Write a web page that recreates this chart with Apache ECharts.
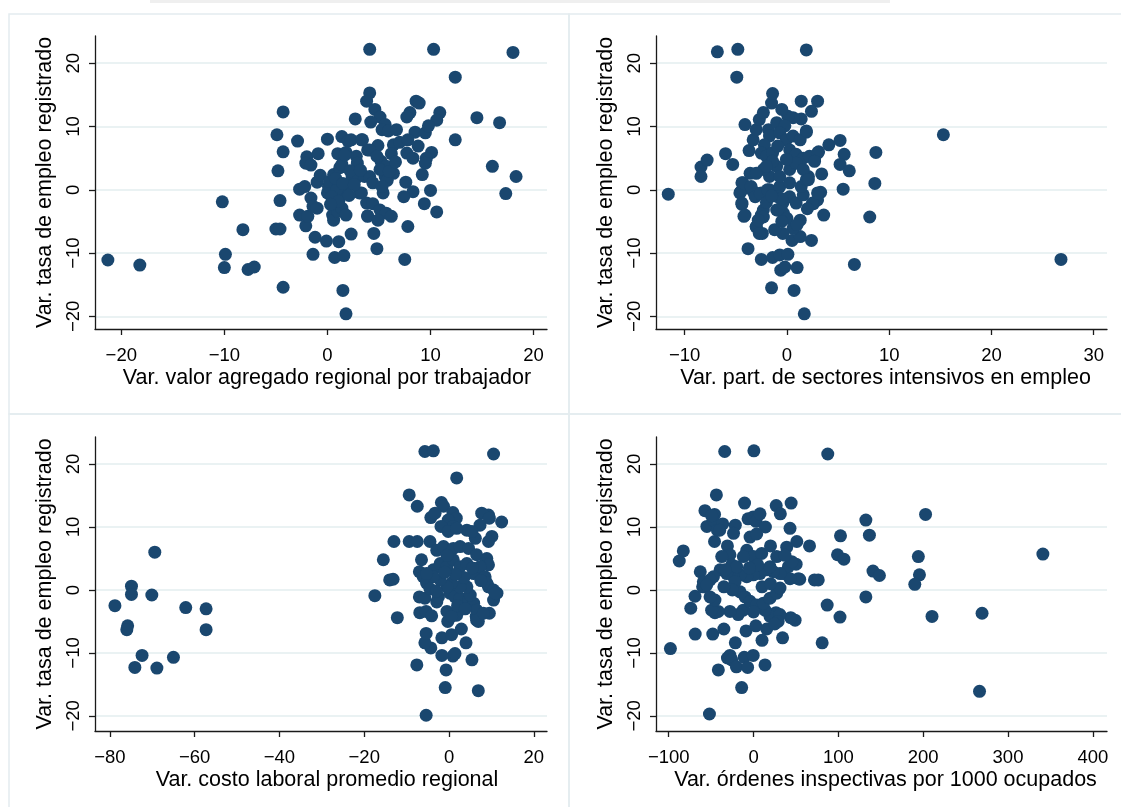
<!DOCTYPE html>
<html><head><meta charset="utf-8">
<script src="https://cdn.jsdelivr.net/npm/echarts@6/dist/echarts.min.js"></script>
<style>html,body{margin:0;padding:0;background:#fff}#c{width:1121px;height:807px}</style>
</head><body><div id="c"></div>
<script>
const yTitle = 'Var. tasa de empleo registrado';
const xTitles = ['Var. valor agregado regional por trabajador', 'Var. part. de sectores intensivos en empleo', 'Var. costo laboral promedio regional', 'Var. órdenes inspectivas por 1000 ocupados'];
const yTicks = [-20, -10, 0, 10, 20];
const xTicksValor = [-20, -10, 0, 10, 20];
const xTicksSectores = [-10, 0, 10, 20, 30];
const xTicksCosto = [-80, -60, -40, -20, 0, 20];
const xTicksOrdenes = [-100, 0, 100, 200, 300, 400];

const valorAgregado = [[-21.3,-11.1],[-18.2,-11.9],[-10.2,-1.9],[-9.9,-10.2],[-10.0,-12.3],[-8.2,-6.3],[-7.7,-12.6],[-7.1,-12.2],
[-4.3,12.3],[-4.9,8.7],[-4.3,6.0],[-4.8,3.0],[-4.6,-1.7],[-5.0,-6.2],[-4.6,-6.2],[-4.3,-15.4],
[-2.9,7.7],[-2.0,5.2],[-2.1,4.2],[-1.6,3.9],[-0.9,5.7],[0.0,8.0],[-2.7,0.1],[-2.2,0.5],[-1.0,1.2],[-0.7,2.3],
[-2.7,-4.0],[-2.1,-5.7],[-1.9,-4.2],[-1.6,-1.3],[-1.4,-2.6],[-1.0,-2.9],[-1.2,-7.5],[-1.4,-10.2],[-0.1,-8.1],
[1.1,-8.2],[0.7,-10.7],[1.6,-10.4],[1.5,-15.9],[1.8,-19.6],[2.3,-7.0],
[1.4,8.4],[2.7,11.2],[2.0,7.7],[2.3,7.9],[1.0,5.7],[1.8,5.9],[2.8,5.3],[3.3,7.9],[2.9,4.2],
[0.0,-0.5],[0.1,0.5],[0.2,1.3],[0.6,2.4],[1.2,3.5],[1.4,4.0],[0.5,-4.0],[0.6,-4.8],[1.0,-3.4],[1.4,-2.9],[1.8,-4.0],[1.2,-1.1],[1.6,-0.5],[1.9,0.5],[0.9,0.0],[0.4,-1.1],[2.4,2.1],[2.8,1.9],[3.1,-0.5],[3.9,-4.2],[3.8,-2.1],[3.6,2.1],[3.9,6.3],
[4.1,22.2],[10.3,22.2],[18.0,21.7],[12.4,17.8],[4.1,15.3],[3.8,14.0],[8.6,14.0],[8.9,13.7],[4.6,12.7],[10.9,12.2],[8.0,12.2],[7.7,11.5],[10.6,11.0],[14.5,11.4],[16.7,10.6],[5.1,11.5],[4.2,10.7],[5.6,10.3],[5.3,9.5],[5.9,9.3],[6.7,9.5],[8.5,9.1],[9.5,9.0],[9.8,10.1],[12.4,7.9],[3.4,7.9],[4.9,7.0],[4.1,6.3],[6.4,7.1],[7.0,7.5],[7.8,7.9],[8.8,6.9],[10.1,5.9],[9.6,5.0],[9.5,4.2],[7.7,5.8],[8.3,5.0],[6.2,5.7],[5.2,4.5],[5.7,3.7],[6.4,2.6],[5.6,2.1],[5.1,3.2],[4.1,2.1],[4.4,1.1],[5.4,-0.5],[3.3,-0.5],[9.2,2.4],[10.0,-0.1],[7.6,1.2],[8.3,-0.3],[7.4,-1.1],[16.0,3.7],[17.3,-0.6],[18.3,2.1],[9.4,-2.2],[10.6,-3.5],[4.4,-2.2],[5.1,-3.2],[5.7,-3.7],[6.2,-4.2],[3.9,-4.1],[4.9,-4.8],[7.8,-5.8],[4.5,-6.9],[4.8,-9.3],[7.5,-11.0],
[0.8,1.8],[1.5,1.0],[2.2,3.0],[2.6,0.8],[1.1,-1.8],[5.8,1.5],[6.0,2.9],[4.8,5.3],[3.2,3.1],[2.1,-0.9],[0.3,-2.3],[1.7,5.5],[5.3,0.5],[6.6,4.4]];

const sectoresIntensivos = [[-11.6,-0.7],[-8.4,3.6],[-8.4,2.1],[-7.8,4.7],[-6.8,21.8],[-4.8,22.2],[-4.9,17.8],[-6.0,5.7],[-5.3,4.0],[-4.1,10.3],[-3.7,6.2],[-3.8,-9.3],[-4.4,1.1],[-4.5,-0.3],[-4.4,-2.3],[-4.2,-4.2],[-3.3,7.9],[-3.0,9.5],[-2.7,11.1],[-2.3,12.2],[-1.5,13.7],[-1.4,15.2],
[-2.5,-11.0],[-1.5,-15.5],[-1.4,-10.7],[-0.6,-12.7],[-0.2,-12.2],[-0.7,-10.3],[0.1,-10.2],[0.7,-15.9],[1.0,-12.3],[1.7,-19.6],[1.9,22.1],[1.4,14.0],[3.0,14.0],[2.4,12.4],[1.4,11.2],[0.6,11.4],[0.1,11.6],[-0.5,12.7],[1.9,9.1],[4.1,7.1],[5.2,7.8],[5.6,5.6],[5.2,4.0],[6.1,3.0],[5.5,0.1],[8.6,1.0],[8.7,5.9],[8.1,-4.3],[6.6,-11.8],[15.3,8.7],[26.8,-11.0],
[3.6,-4.0],[3.4,2.5],[3.3,-0.4],[3.1,6.0],[2.7,4.7],[2.4,-8.0],[3.0,-1.6],[2.6,-2.2],[2.1,2.1],[0.5,-8.0],[1.3,-7.4],[1.3,-4.8],[0.6,-6.1],[-0.4,-6.9],[-1.2,-6.3],[-0.35,-3.7],[-1.0,-3.2],[-2.4,-6.9],[-3.0,-5.9],
[-1.8,9.5],[-1.7,8.5],[-1.0,10.6],[-0.2,10.1],[-0.7,9.0],[-0.05,7.9],[0.6,8.5],[1.3,7.9],[1.9,9.3],[-2.2,7.1],[-2.5,5.8],[-2.0,5.3],[-1.4,5.8],[-0.9,6.9],[0.27,6.3],[0.9,5.6],[1.6,5.0],[2.2,5.3],[3.0,5.8],[2.7,4.5],
[-4.6,-0.5],[-4.4,-2.1],[-4.3,1.1],[-3.6,2.6],[-3.3,-0.3],[-3.0,-5.8],[-2.7,-6.9],[-2.5,-4.0],[-2.3,-3.2],[-4.1,-4.0],[-0.9,-3.2],[-0.4,-2.1],[0.27,-1.1],[0.9,-2.1],[1.6,-0.8],[1.4,0.5],[1.9,1.6],[2.5,-2.1],[3.0,-0.5],
[-1.0,3.7],[-1.7,2.1],[-2.3,3.2],[-3.0,2.6],[-3.5,0.5],[-2.5,-0.5],[-1.7,0.0],[-0.7,0.5],[0.27,1.1],[0.27,3.2],[0.9,4.2],[1.6,3.2],[2.1,1.6],[-0.05,4.8],[-1.4,4.5],[-2.0,3.7],[-0.7,2.1],
[-3.1,-1.1],[-2.6,-0.6],[-1.9,0.0],[-0.9,-1.1],[-0.5,-1.4],[-2.3,-4.3],[-2.8,-4.8],[-2.0,-2.0],[-1.5,-1.0],[0.0,-4.5],[1.0,-5.5],[-0.5,-5.0],[2.0,-3.0]];

const costoLaboral = [[-78.8,-2.5],[-74.9,0.6],[-74.9,-0.7],[-75.8,-5.7],[-76.0,-6.3],[-72.4,-10.4],[-74.1,-12.3],[-70.1,-0.8],[-69.4,6.0],[-68.9,-12.4],[-65.0,-10.7],[-62.1,-2.8],[-57.3,-3.0],[-57.3,-6.3],
[-17.5,-0.9],[-15.5,4.8],[-14.0,1.6],[-13.2,1.7],[-13.0,7.7],[-12.2,-4.4],[-9.4,15.1],[-7.5,13.3],[-9.4,7.7],[-7.5,7.7],[-4.5,7.7],[-5.7,22.0],[-3.7,22.1],[10.5,21.6],[1.8,17.8],[-5.4,-19.9],[-7.6,-11.9],[-0.9,-15.5],[6.9,-16.0],[-0.7,-12.7],[5.4,-11.1],[0.9,-10.5],[1.4,-10.1],[-1.7,-10.4],[-4.3,-9.2],[-5.7,-8.4],[-5.4,-6.9],[-1.7,-7.6],[0.6,-7.1],[2.9,-6.2],[4.0,-8.4],[-0.3,-5.0],[1.8,-4.0],[-0.5,-3.4],[0.6,-4.2],[6.9,-5.0],[6.4,-4.2],[9.5,-3.7],[-6.9,-3.6],[-5.4,-3.4],[-4.1,-4.1],[-7.0,-1.1],[-5.7,-1.3],[-2.9,-1.9],[-2.5,-1.1],[10.5,-1.6],[11.3,-0.5],[9.3,0.5],[12.4,10.8],[9.3,11.9],[7.7,12.2],[9.5,11.4],[7.3,10.3],[6.2,8.2],[10.1,8.5],[9.3,7.7],[4.2,9.5],[5.4,9.3],[-1.8,13.9],[-1.3,13.3],[-4.3,11.5],[-3.3,12.2],[0.9,12.3],[1.7,11.4],[-0.2,11.1],[1.0,10.1],[-1.9,10.1],[-0.2,9.3],[1.8,9.8],
[-2.9,6.3],[-1.3,6.9],[1.0,6.6],[2.6,6.9],[4.6,6.6],[6.5,5.6],[8.9,5.0],[8.5,4.2],[9.3,4.0],
[-6.5,4.8],[-7.0,2.9],[-6.1,2.1],[-5.3,1.1],[-3.7,3.2],[-2.1,4.2],[-0.5,3.7],[1.0,4.8],[2.6,3.7],[4.2,4.2],[5.8,2.6],[7.3,3.7],[8.5,2.1],[8.9,1.1],[10.5,0.0],[10.9,-0.5],
[0.2,-0.5],[1.4,-1.1],[2.6,-1.3],[4.6,-1.6],[5.8,-2.1],[6.5,-3.2],[6.5,-4.8],[8.1,-3.7],[5.0,-0.8],[4.2,0.5],[2.6,0.5],[0.6,1.1],[-0.5,0.5],[-2.1,1.6],[-3.7,2.1],[-5.3,2.6],
[-4.5,0.2],[-3.0,-0.2],[3.5,2.0],[1.5,2.5],[-1.0,2.8],[2.0,-2.5],[3.8,-3.0],[7.5,1.5],[5.5,3.5],[-0.5,5.5]];

const ordenesInspectivas = [[-98,-9.3],[-87.6,4.6],[-82.8,6.2],[-74,-2.9],[-69,-1.0],[-68.8,-7.0],[-62.8,2.9],[-60,0.5],[-57.3,12.6],[-55,10.1],[-52,-19.7],[-48.1,-7.0],[-46,12.0],[-47.6,11.1],[-43.8,15.1],[-46,7.7],[-42.6,9.5],[-36.3,10.5],[-34,22.0],[-41.5,-12.7],[-35,-6.2],[-30.8,-10.8],[-27.8,-10.4],[-25.7,-11.1],[-21.5,-8.4],[-20.2,-12.2],[-21.5,10.3],[-23.6,9.0],[-30.8,7.0],[-27.8,5.6],[-25.7,4.0],[-14,-15.5],[-10.6,13.8],[-6.5,11.3],[-0.4,11.6],[1.5,11.1],[3.0,10.9],[7.6,12.1],[0.4,22.1],[14,10.0],[-8.9,-6.5],[2.7,-5.7],[15.5,-6.2],[-11,-10.7],[-7,-12.3],[-0.4,-10.4],[13.5,-11.9],[34.2,-7.6],[26.7,13.4],[31.6,12.1],[44.3,13.8],[43,9.8],[51,7.7],[66,7.0],[71.8,1.6],[76.3,1.6],[50.2,4.1],[54.4,1.7],[49,-4.8],[43.8,-4.4],[86.8,-2.4],[80.9,-8.4],[87.5,21.6],[102.5,8.6],[99,5.6],[106.5,4.9],[101.9,-4.3],[132.4,11.1],[136.6,8.7],[140.8,3.0],[148.4,2.3],[132.4,-1.1],[202.8,12.0],[194.3,5.3],[195.6,2.4],[190.1,0.9],[210.4,-4.2],[269.4,-3.7],[266.4,-16.1],[341.1,5.7],
[-49.4,11.8],[-39.9,9.5],[-57.2,0.5],
[-12.2,-3.2],[-18.1,-3.9],[-27.8,-3.4],[-41.6,-3.4],[-45.5,-3.6],[-49.4,-3.2],[-45.5,-1.6],[-51.3,-1.1],[-59.2,1.3],
[26.4,-3.6],[19.4,-4.2],[13.5,-3.2],[31.1,-3.9],
[-15.9,-0.3],[-10.0,-1.1],[-4.1,-1.8],[3.7,-2.4],[11.6,-2.1],[19.4,-1.3],[27.3,-0.5],[31.2,0.3],[35.2,2.6],[41.1,3.7],[52.8,1.8],[43.0,1.8],[31.2,2.6],[23.4,2.9],[15.5,3.2],[7.6,2.6],[-0.2,2.4],[-8.0,2.1],[-15.9,2.4],[-23.7,2.1],[-31.6,2.6],[-39.4,3.2],[-47.3,2.1],[-51.2,1.6],[-55.2,0.8],
[-4.1,8.4],[3.7,8.9],[-8.0,6.3],[-0.2,5.3],[9.6,5.8],[19.4,3.7],[27.3,5.3],[39.1,6.8],[45.0,4.5],[37.1,5.5],[-19.8,3.7],[-12.0,5.3],[-37.5,5.3],[-33.6,3.2],[-21.8,1.3],
[29,-5.0],[25,-5.4],[10,0.5],[20,1.0],[5,4.0],[-5,3.5],[-25,0.0],[-35,0.5],[0,-3.5],[10,-8],[20,7]];

const panels = [
  {data: valorAgregado, xTicks: xTicksValor, min: -22.55, max: 21.3, left: 95, top: 36, w: 452, h: 293, yMin: -22.0, yMax: 24.3, shift: 12},
  {data: sectoresIntensivos, xTicks: xTicksSectores, min: -12.8, max: 31.3, left: 656, top: 36, w: 451, h: 293, yMin: -22.0, yMax: 24.3, shift: 8},
  {data: costoLaboral, xTicks: xTicksCosto, min: -83.5, max: 23.1, left: 95, top: 437, w: 452, h: 294, yMin: -22.4, yMax: 24.3, shift: 12},
  {data: ordenesInspectivas, xTicks: xTicksOrdenes, min: -115, max: 416.7, left: 656, top: 437, w: 451, h: 294, yMin: -22.4, yMax: 24.3, shift: 8}
];

const FONT = '"Liberation Sans", Arial, sans-serif';
const axisLineStyle = {color: '#1a1a1a', width: 1.3};
const fmtTick = v => String(v).replace('-', '\u2212');

const chart = echarts.init(document.getElementById('c'), null, {renderer: 'canvas'});
const option = {
  animation: false,
  backgroundColor: '#ffffff',
  textStyle: {fontFamily: FONT},
  graphic: [
    {type: 'rect', shape: {x: 150, y: 0, width: 740, height: 3}, style: {fill: '#efefef'}, silent: true},
    {type: 'rect', shape: {x: 9, y: 14, width: 560, height: 400}, style: {fill: 'none', stroke: '#e4ecef', lineWidth: 1.5}, silent: true},
    {type: 'rect', shape: {x: 569, y: 14, width: 560, height: 400}, style: {fill: 'none', stroke: '#e4ecef', lineWidth: 1.5}, silent: true},
    {type: 'rect', shape: {x: 9, y: 414, width: 560, height: 400}, style: {fill: 'none', stroke: '#e4ecef', lineWidth: 1.5}, silent: true},
    {type: 'rect', shape: {x: 569, y: 414, width: 560, height: 400}, style: {fill: 'none', stroke: '#e4ecef', lineWidth: 1.5}, silent: true}
  ],
  grid: panels.map(p => ({left: p.left, top: p.top, width: p.w, height: p.h, containLabel: false})),
  xAxis: panels.map((p, i) => ({
    type: 'value', gridIndex: i, min: p.min, max: p.max,
    name: xTitles[i], nameLocation: 'middle', nameGap: 38,
    nameTextStyle: {fontSize: 21.5, color: '#000', fontFamily: FONT, padding: [0, 0, 0, p.shift]},
    axisLine: {show: true, onZero: false, lineStyle: axisLineStyle},
    axisTick: {show: true, length: 6, customValues: p.xTicks, lineStyle: axisLineStyle},
    axisLabel: {customValues: p.xTicks, formatter: fmtTick, fontSize: 18.5, color: '#000', margin: 17, fontFamily: FONT},
    splitLine: {show: false}
  })),
  yAxis: panels.map((p, i) => ({
    type: 'value', gridIndex: i, min: p.yMin, max: p.yMax,
    name: yTitle, nameLocation: 'middle', nameGap: 39, nameRotate: 90,
    nameTextStyle: {fontSize: 21.5, color: '#000', fontFamily: FONT},
    axisLine: {show: true, onZero: false, lineStyle: axisLineStyle},
    axisTick: {show: true, length: 6, customValues: yTicks, lineStyle: axisLineStyle},
    axisLabel: {customValues: yTicks, formatter: fmtTick, rotate: 90, fontSize: 18.5, color: '#000', margin: 12, fontFamily: FONT},
    splitLine: {show: true, lineStyle: {color: '#eaf2f3', width: 2}}
  })),
  series: panels.map((p, i) => ({
    type: 'scatter', xAxisIndex: i, yAxisIndex: i, data: p.data,
    symbol: 'circle', symbolSize: 13,
    itemStyle: {color: '#1a476f', opacity: 1},
    emphasis: {disabled: true}, z: 3
  }))
};
chart.setOption(option);
</script>
</body></html>
